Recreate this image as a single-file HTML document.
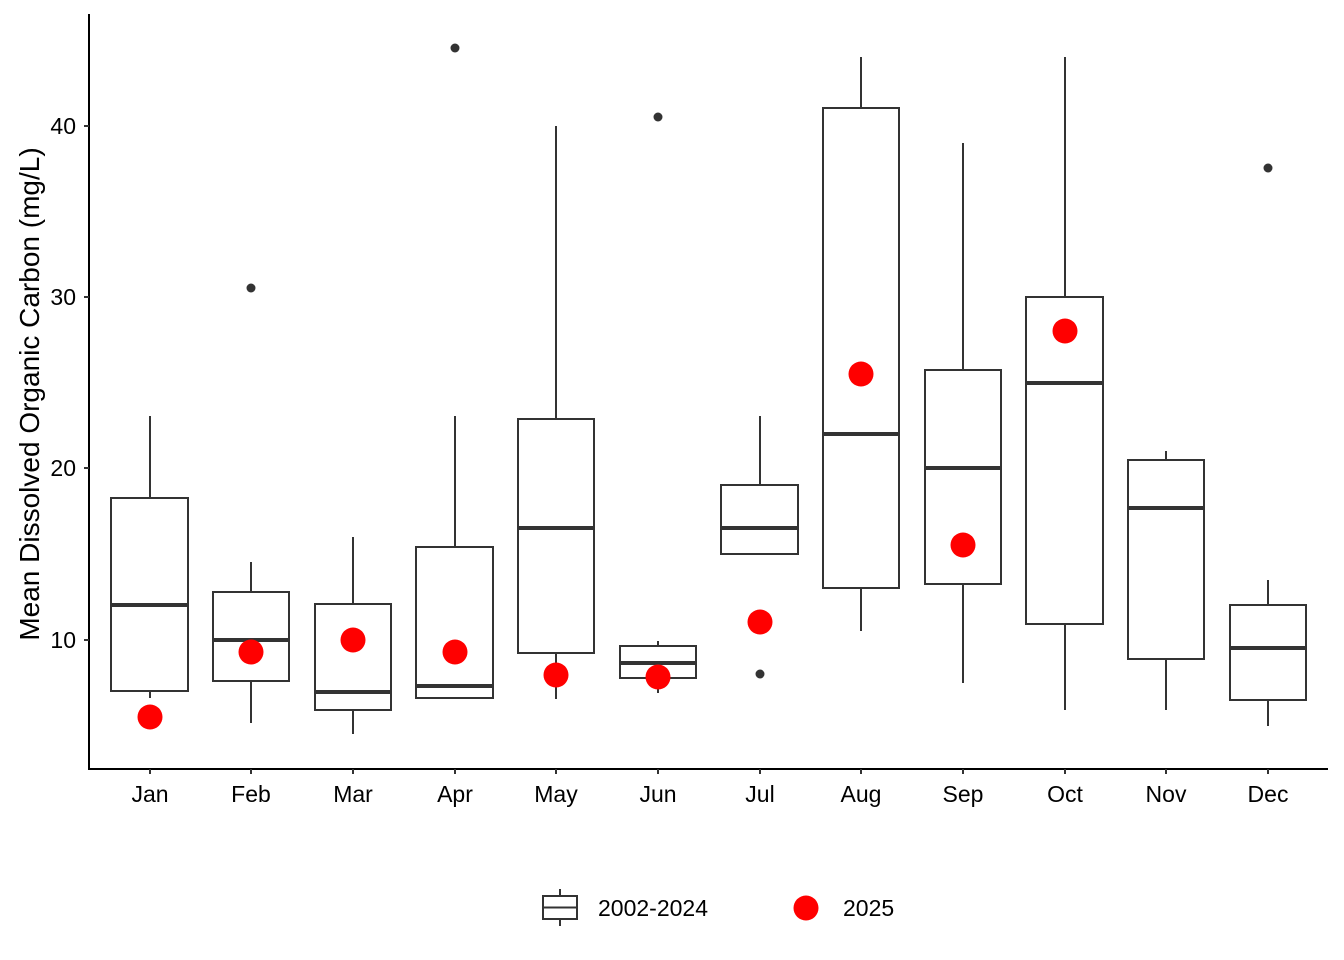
<!DOCTYPE html>
<html><head><meta charset="utf-8"><style>body{margin:0;background:#fff}svg{display:block}</style></head><body>
<svg width="1344" height="960" xmlns="http://www.w3.org/2000/svg" font-family="Liberation Sans, sans-serif">
<rect width="1344" height="960" fill="#fff"/>
<g stroke="#333" stroke-width="2" fill="#fff">
<line x1="150" y1="416" x2="150" y2="498"/><line x1="150" y1="691" x2="150" y2="698"/>
<rect x="111" y="498" width="77" height="193"/><line x1="111" y1="605" x2="188" y2="605" stroke-width="4"/>
<line x1="251" y1="562" x2="251" y2="592"/><line x1="251" y1="681" x2="251" y2="723"/>
<rect x="213" y="592" width="76" height="89"/><line x1="213" y1="640" x2="289" y2="640" stroke-width="4"/>
<line x1="353" y1="537" x2="353" y2="604"/><line x1="353" y1="710" x2="353" y2="734"/>
<rect x="315" y="604" width="76" height="106"/><line x1="315" y1="692" x2="391" y2="692" stroke-width="4"/>
<line x1="455" y1="416" x2="455" y2="547"/>
<rect x="416" y="547" width="77" height="151"/><line x1="416" y1="686" x2="493" y2="686" stroke-width="4"/>
<line x1="556" y1="126" x2="556" y2="419"/><line x1="556" y1="653" x2="556" y2="699"/>
<rect x="518" y="419" width="76" height="234"/><line x1="518" y1="528" x2="594" y2="528" stroke-width="4"/>
<line x1="658" y1="641" x2="658" y2="646"/><line x1="658" y1="678" x2="658" y2="693"/>
<rect x="620" y="646" width="76" height="32"/><line x1="620" y1="663" x2="696" y2="663" stroke-width="4"/>
<line x1="760" y1="416" x2="760" y2="485"/>
<rect x="721" y="485" width="77" height="69"/><line x1="721" y1="528" x2="798" y2="528" stroke-width="4"/>
<line x1="861" y1="57" x2="861" y2="108"/><line x1="861" y1="588" x2="861" y2="631"/>
<rect x="823" y="108" width="76" height="480"/><line x1="823" y1="434" x2="899" y2="434" stroke-width="4"/>
<line x1="963" y1="143" x2="963" y2="370"/><line x1="963" y1="584" x2="963" y2="683"/>
<rect x="925" y="370" width="76" height="214"/><line x1="925" y1="468" x2="1001" y2="468" stroke-width="4"/>
<line x1="1065" y1="57" x2="1065" y2="297"/><line x1="1065" y1="624" x2="1065" y2="710"/>
<rect x="1026" y="297" width="77" height="327"/><line x1="1026" y1="383" x2="1103" y2="383" stroke-width="4"/>
<line x1="1166" y1="451" x2="1166" y2="460"/><line x1="1166" y1="659" x2="1166" y2="710"/>
<rect x="1128" y="460" width="76" height="199"/><line x1="1128" y1="508" x2="1204" y2="508" stroke-width="4"/>
<line x1="1268" y1="580" x2="1268" y2="605"/><line x1="1268" y1="700" x2="1268" y2="726"/>
<rect x="1230" y="605" width="76" height="95"/><line x1="1230" y1="648" x2="1306" y2="648" stroke-width="4"/>
</g>
<g fill="#333">
<circle cx="251" cy="288" r="4.5"/><circle cx="455" cy="48" r="4.5"/><circle cx="658" cy="117" r="4.5"/>
<circle cx="760" cy="674" r="4.5"/><circle cx="1268" cy="168" r="4.5"/>
</g>
<g fill="#f00">
<circle cx="150" cy="717" r="12.5"/><circle cx="251" cy="652" r="12.5"/><circle cx="353" cy="640" r="12.5"/>
<circle cx="455" cy="652" r="12.5"/><circle cx="556" cy="675" r="12.5"/><circle cx="658" cy="677" r="12.5"/>
<circle cx="760" cy="622" r="12.5"/><circle cx="861" cy="374" r="12.5"/><circle cx="963" cy="545" r="12.5"/>
<circle cx="1065" cy="331" r="12.5"/>
</g>
<g stroke="#000" stroke-width="2">
<line x1="89" y1="14" x2="89" y2="770"/><line x1="88" y1="769" x2="1328" y2="769"/>
</g>
<g stroke="#333" stroke-width="2">
<line x1="84" y1="126" x2="89" y2="126"/><line x1="84" y1="297" x2="89" y2="297"/>
<line x1="84" y1="468" x2="89" y2="468"/><line x1="84" y1="640" x2="89" y2="640"/>
<line x1="150" y1="769" x2="150" y2="774"/><line x1="251" y1="769" x2="251" y2="774"/><line x1="353" y1="769" x2="353" y2="774"/>
<line x1="455" y1="769" x2="455" y2="774"/><line x1="556" y1="769" x2="556" y2="774"/><line x1="658" y1="769" x2="658" y2="774"/>
<line x1="760" y1="769" x2="760" y2="774"/><line x1="861" y1="769" x2="861" y2="774"/><line x1="963" y1="769" x2="963" y2="774"/>
<line x1="1065" y1="769" x2="1065" y2="774"/><line x1="1166" y1="769" x2="1166" y2="774"/><line x1="1268" y1="769" x2="1268" y2="774"/>
</g>
<g font-size="23" fill="#000" text-anchor="end">
<text x="76" y="134">40</text><text x="76" y="305">30</text><text x="76" y="476">20</text><text x="76" y="648">10</text>
</g>
<g font-size="23" fill="#000" text-anchor="middle">
<text x="150" y="802">Jan</text><text x="251" y="802">Feb</text><text x="353" y="802">Mar</text><text x="455" y="802">Apr</text>
<text x="556" y="802">May</text><text x="658" y="802">Jun</text><text x="760" y="802">Jul</text><text x="861" y="802">Aug</text>
<text x="963" y="802">Sep</text><text x="1065" y="802">Oct</text><text x="1166" y="802">Nov</text><text x="1268" y="802">Dec</text>
</g>
<text transform="translate(39,394) rotate(-90)" font-size="28" text-anchor="middle" fill="#000">Mean Dissolved Organic Carbon (mg/L)</text>
<g stroke="#333" stroke-width="2" fill="#fff">
<line x1="560" y1="889" x2="560" y2="926"/>
<rect x="543" y="896" width="34" height="23"/>
<line x1="543" y1="907.5" x2="577" y2="907.5"/>
</g>
<circle cx="806" cy="908" r="12.5" fill="#f00"/>
<g font-size="23" fill="#000"><text x="598" y="916">2002-2024</text><text x="843" y="916">2025</text></g>
</svg>
</body></html>
